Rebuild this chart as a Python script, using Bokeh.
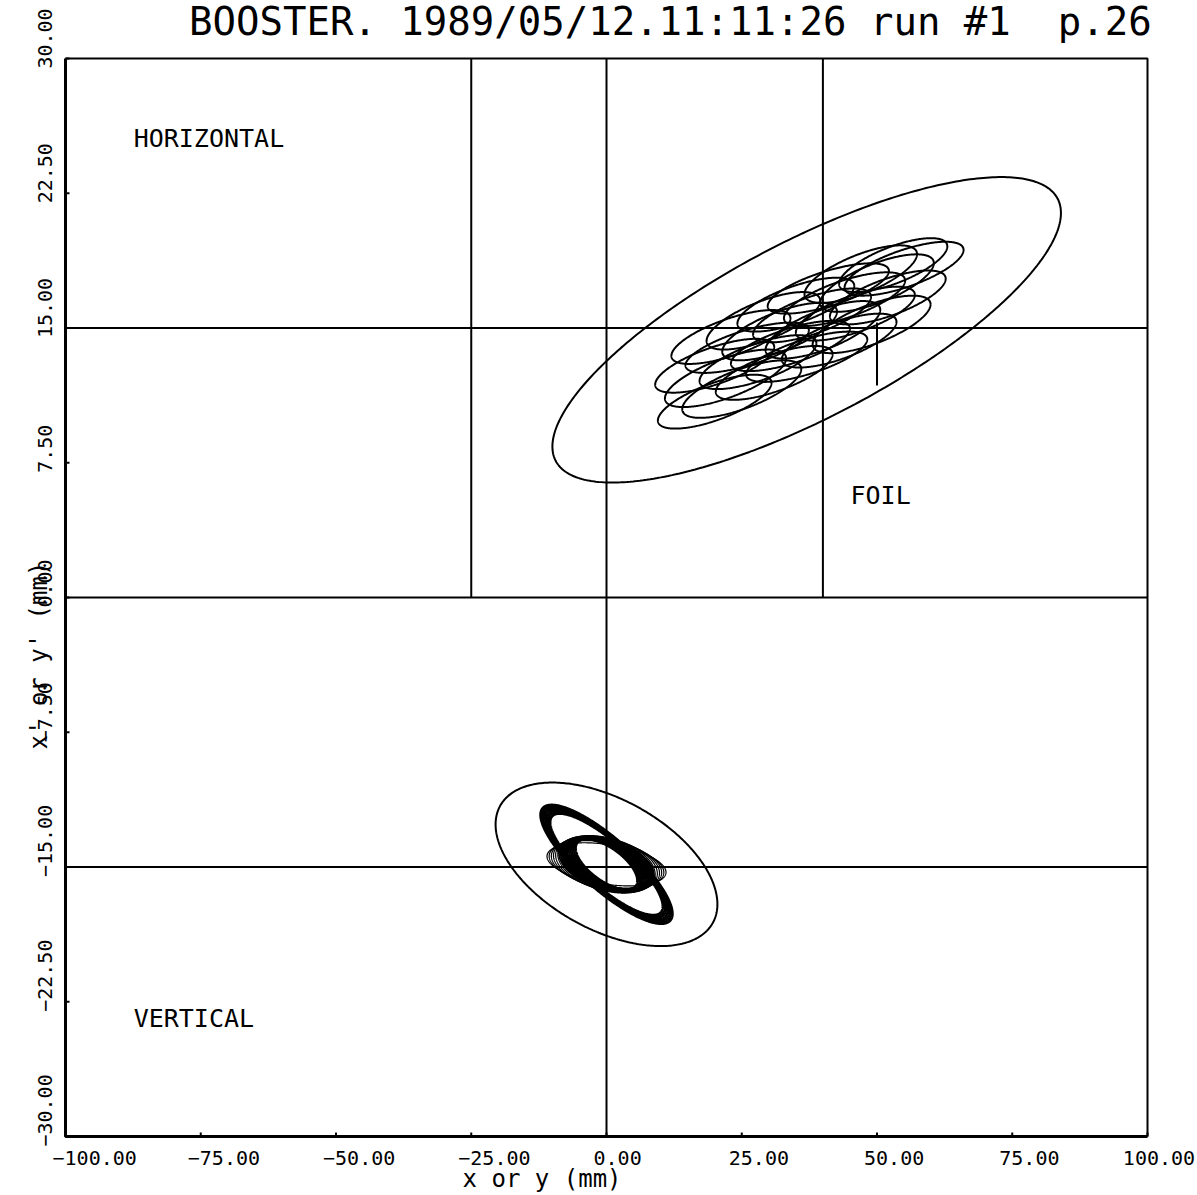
import numpy as np
from bokeh.plotting import figure
from bokeh.models import Label, Range1d
from bokeh.embed import file_html
from bokeh.resources import INLINE

# ---------------- data ----------------
title_text = "BOOSTER. 1989/05/12.11:11:26 run #1 \u00a0p.26"
x_lim = [-100, 100]
y_lim = [-30, 30]
x_ticks = [-100, -75, -50, -25, 0, 25, 50, 75, 100]
y_ticks = [-30, -22.5, -15, -7.5, 0, 7.5, 15, 22.5, 30]

# divider lines
full_h_lines = [15, 0, -15]
full_v_lines = [0]
half_v_lines = [-25, 40]          # upper (horizontal) panel only

# horizontal plane: acceptance ellipse (center x, center x', amp x, amp x', phase)
h_acc = (37.0, 14.9, 47.0, 8.5, 0.70)
# injected beamlet ellipses, turn by turn (centres and amplitudes)
h_beam_cx = [23, 29, 35, 41, 47, 53,
             20, 26, 32, 38, 44, 50, 55,
             22, 28, 34, 40, 46, 52,
             20, 25, 31, 37, 43, 49]
h_beam_cy = [14.5, 15.4, 16.3, 17.2, 18.0, 18.5,
             12.9, 13.9, 14.8, 15.7, 16.6, 17.5, 18.3,
             12.2, 13.1, 14.0, 14.9, 15.8, 16.7,
             10.9, 11.6, 12.5, 13.4, 14.3, 15.2]
h_beam_a = [11.0, 10.5, 10.8, 11.2, 10.4, 10.0,
            11.0, 11.4, 10.6, 10.9, 11.2, 10.5, 11.0,
            11.2, 10.8, 11.0, 10.6, 11.0, 10.7,
            10.5, 11.0, 10.8, 11.2, 10.6, 10.9]
h_beam_b = [1.5, 1.6, 1.5, 1.4, 1.6, 1.5,
            1.5, 1.4, 1.6, 1.5, 1.5, 1.6, 1.5,
            1.6, 1.5, 1.4, 1.6, 1.5, 1.5,
            1.5, 1.6, 1.5, 1.4, 1.5, 1.6]
h_beam_phase = 0.8

foil_x = [50]
foil_y0 = [11.8]
foil_y1 = [15.3]

# vertical plane: acceptance ellipse
v_acc = (0.0, -14.85, 20.5, 4.55, 2.08)
# vertical beam (all centred on v_cx, v_cy)
v_cx, v_cy = 0.0, -14.85
# dense core ring around the empty hole (amp y, amp y', phase)
v_core_a = [5.7, 6.0, 6.3, 6.6, 6.9, 7.2, 7.5, 7.8, 8.1, 8.4, 8.7]
v_core_b = [1.40, 1.40, 1.42, 1.42, 1.44, 1.45, 1.47, 1.48, 1.50, 1.52, 1.54]
v_core_phase = [2.27, 2.24, 2.21, 2.18, 2.14, 2.12, 2.08, 2.06, 2.03, 2.00, 1.97]
# sparse filaments forming the hatched side lobes
v_lobe_a = [9.0, 9.4, 9.8, 10.2, 10.6, 11.0]
v_lobe_b = [1.60, 1.56, 1.50, 1.42, 1.32, 1.20]
v_lobe_phase = [1.93, 1.91, 1.90, 1.90, 1.92, 1.95]
# outer envelope, drawn as a thick rim
v_env_a = [12.2, 11.9, 11.6, 11.3, 11.0, 10.7, 10.4]
v_env_b = [3.31, 3.23, 3.15, 3.07, 2.98, 2.90, 2.82]
v_env_phase = [2.55, 2.55, 2.55, 2.55, 2.55, 2.55, 2.55]

texts = [("HORIZONTAL", -87.4, 25.55), ("VERTICAL", -87.4, -23.43), ("FOIL", 45.1, 5.68)]

# ---------------- figure (frame fills whole canvas) ----------------
p = figure(width=1197, height=1195, x_range=Range1d(-112.015, 109.242),
           y_range=Range1d(-33.283, 33.228),
           output_backend="svg", toolbar_location=None,
           x_axis_location=None, y_axis_location=None,
           min_border=0, min_border_left=0, min_border_right=0,
           min_border_top=0, min_border_bottom=0)
p.background_fill_color = "white"
p.border_fill_color = "white"
p.outline_line_color = None
p.xgrid.visible = False
p.ygrid.visible = False

K = "black"
x0, x1 = x_lim
y0, y1 = y_lim

# plot box: left & bottom heavier
p.line([x0, x0, x1], [y1, y0, y0], line_color=K, line_width=3)
p.line([x0, x1, x1], [y1, y1, y0], line_color=K, line_width=2)

# tick marks (inward)
tx = 4 / 5.41
ty = 4 / 17.967
p.segment(x0=x_ticks, y0=[y0] * len(x_ticks), x1=x_ticks, y1=[y0 + ty] * len(x_ticks),
          line_color=K, line_width=2)
p.segment(x0=[x0] * len(y_ticks), y0=y_ticks, x1=[x0 + tx] * len(y_ticks), y1=y_ticks,
          line_color=K, line_width=2)

# divider lines
p.segment(x0=[x0] * len(full_h_lines), y0=full_h_lines, x1=[x1] * len(full_h_lines),
          y1=full_h_lines, line_color=K, line_width=2)
p.segment(x0=full_v_lines, y0=[y0] * len(full_v_lines), x1=full_v_lines,
          y1=[y1] * len(full_v_lines), line_color=K, line_width=2)
p.segment(x0=half_v_lines, y0=[0] * len(half_v_lines), x1=half_v_lines,
          y1=[y1] * len(half_v_lines), line_color=K, line_width=2)

t = np.linspace(0, 2 * np.pi, 361)

def ell(cx, cy, a, b, ph):
    return list(cx + a * np.cos(t)), list(cy + b * np.cos(t - ph))

def family(aa, bb, pp):
    xs, ys = [], []
    for a, b, ph in zip(aa, bb, pp):
        ex, ey = ell(v_cx, v_cy, a, b, ph)
        xs.append(ex); ys.append(ey)
    return xs, ys

# horizontal acceptance + beamlets
xs, ys = [], []
ex, ey = ell(*h_acc)
xs.append(ex); ys.append(ey)
for cx, cy, a, b in zip(h_beam_cx, h_beam_cy, h_beam_a, h_beam_b):
    ex, ey = ell(cx, cy, a, b, h_beam_phase)
    xs.append(ex); ys.append(ey)
p.multi_line(xs, ys, line_color=K, line_width=2)
p.segment(x0=foil_x, y0=foil_y0, x1=foil_x, y1=foil_y1, line_color=K, line_width=2)

# vertical acceptance + beam
ex, ey = ell(*v_acc)
p.line(ex, ey, line_color=K, line_width=2)
xs, ys = family(v_core_a, v_core_b, v_core_phase)
p.multi_line(xs, ys, line_color=K, line_width=2.5)
xs, ys = family(v_lobe_a, v_lobe_b, v_lobe_phase)
p.multi_line(xs, ys, line_color=K, line_width=1.2)
xs, ys = family(v_env_a, v_env_b, v_env_phase)
p.multi_line(xs, ys, line_color=K, line_width=2.5)

MONO = "DejaVu Sans Mono"

def fmt(v):
    return f"{v:.2f}".replace("-", "\u2212")

# tick labels
for v in x_ticks:
    if v == x_ticks[-1]:
        p.add_layout(Label(x=108.8, y=-31.17, text=fmt(v), text_font=MONO,
                           text_font_size="20px", text_align="right", text_baseline="middle",
                           text_color=K))
    else:
        p.add_layout(Label(x=v - 2.4, y=-31.17, text=fmt(v), text_font=MONO,
                           text_font_size="20px", text_align="left", text_baseline="middle",
                           text_color=K))
for v in y_ticks:
    p.add_layout(Label(x=-103.7, y=v - 0.56, text=fmt(v), text_font=MONO,
                       text_font_size="20px", text_align="left", text_baseline="middle",
                       angle=np.pi / 2, text_color=K))

# axis titles
p.add_layout(Label(x=-26.6, y=-32.34, text="x or y (mm)", text_font=MONO,
                   text_font_size="24px", text_align="left", text_baseline="middle",
                   text_color=K))
p.add_layout(Label(x=-104.9, y=-3.23, text="x' or y' (mm)", text_font=MONO,
                   text_font_size="24px", text_align="center", text_baseline="middle",
                   angle=np.pi / 2, text_color=K))

# title
p.add_layout(Label(x=11.8, y=32.06, text=title_text, text_font=MONO,
                   text_font_size="39px", text_align="center", text_baseline="middle",
                   text_color=K))

for s, x, y in texts:
    p.add_layout(Label(x=x, y=y, text=s, text_font=MONO, text_font_size="25px",
                       text_align="left", text_baseline="middle", text_color=K))

open("out.html", "w").write(file_html(p, INLINE))
